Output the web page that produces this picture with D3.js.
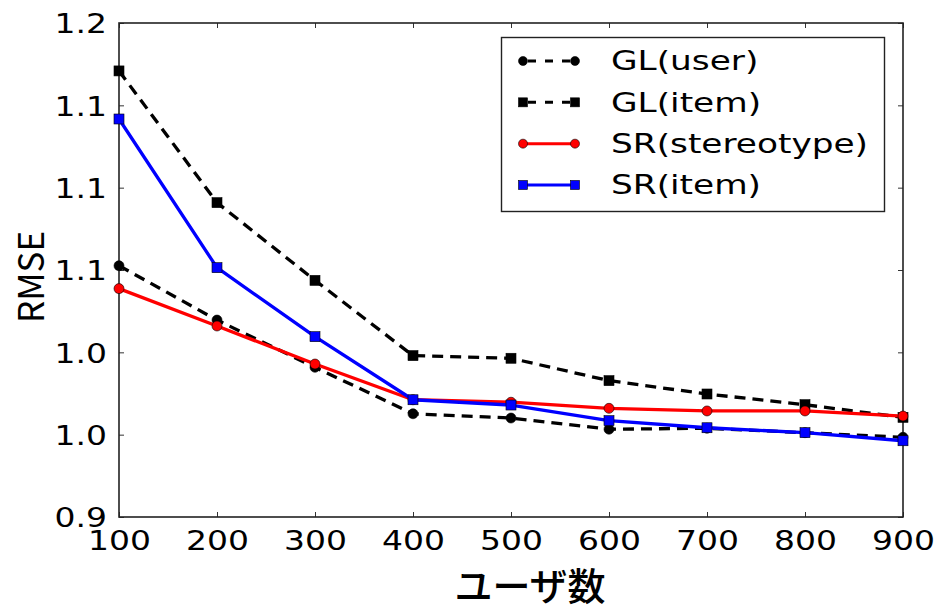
<!DOCTYPE html>
<html>
<head>
<meta charset="utf-8">
<script src="https://cdn.jsdelivr.net/npm/d3@7/dist/d3.min.js"></script>
<style>
  html, body { margin: 0; padding: 0; background: #fff; }
  svg { display: block; }
</style>
</head>
<body>
<svg id="chart" width="937" height="612"></svg>
<script>
// Number of users on the x axis
const users = [100, 200, 300, 400, 500, 600, 700, 800, 900];

// RMSE per method
const glUser = [1.0526, 1.0196, 0.9909, 0.9627, 0.9601, 0.9533, 0.9539, 0.9512, 0.9484];
const glItem = [1.1709, 1.0909, 1.0437, 0.9980, 0.9964, 0.9828, 0.9747, 0.9682, 0.9605];
const srStereotype = [1.0387, 1.0160, 0.9929, 0.9712, 0.9697, 0.9660, 0.9644, 0.9644, 0.9613];
const srItem = [1.1417, 1.0514, 1.0095, 0.9712, 0.9680, 0.9585, 0.9542, 0.9512, 0.9463];

// Axis ticks and their printed labels
const yTicks = [0.90, 0.95, 1.00, 1.05, 1.10, 1.15, 1.20];
const yTickLabels = ["0.9", "1.0", "1.0", "1.1", "1.1", "1.1", "1.2"];
const xTicks = [100, 200, 300, 400, 500, 600, 700, 800, 900];

const seriesNames = ["GL(user)", "GL(item)", "SR(stereotype)", "SR(item)"];

const series = [
  { name: seriesNames[0], values: glUser, color: "#000", dash: "11,7", marker: "circle" },
  { name: seriesNames[1], values: glItem, color: "#000", dash: "11,7", marker: "square" },
  { name: seriesNames[2], values: srStereotype, color: "#ff0000", dash: null, marker: "circle" },
  { name: seriesNames[3], values: srItem, color: "#0000ff", dash: null, marker: "square" }
];

const svg = d3.select("#chart");
const plot = { left: 119, right: 903, top: 23, bottom: 517 };

const x = d3.scaleLinear().domain([100, 900]).range([plot.left, plot.right]);
const y = d3.scaleLinear().domain([0.9, 1.2]).range([plot.bottom, plot.top]);

const latinFont = "'DejaVu Sans', sans-serif";
const cjkFont = "'Noto Sans CJK JP', 'Noto Sans', sans-serif";

// stretch a text element horizontally by a factor
function widen(sel, factor) {
  sel.each(function () {
    const w = this.getComputedTextLength();
    d3.select(this).attr("textLength", w * factor).attr("lengthAdjust", "spacingAndGlyphs");
  });
}

// Axes (ticks pointing inward, on all four sides)
const tickLen = 5;
const axisBottom = d3.axisBottom(x).tickValues(xTicks).tickSizeInner(-tickLen).tickSizeOuter(0).tickPadding(14).tickFormat(d3.format("d"));
const axisTop = d3.axisTop(x).tickValues(xTicks).tickSizeInner(-tickLen).tickSizeOuter(0).tickFormat("");
const axisLeft = d3.axisLeft(y).tickValues(yTicks).tickSizeInner(-tickLen).tickSizeOuter(0).tickPadding(12)
  .tickFormat((d, i) => yTickLabels[i]);
const axisRight = d3.axisRight(y).tickValues(yTicks).tickSizeInner(-tickLen).tickSizeOuter(0).tickFormat("");

function styleAxis(g) {
  g.select(".domain").remove();
  g.selectAll(".tick line").attr("stroke", "#333").attr("stroke-width", 1);
  g.selectAll(".tick text").attr("fill", "#000").style("font-family", latinFont).style("font-size", "27px");
}

const gx = svg.append("g").attr("transform", `translate(0,${plot.bottom})`).call(axisBottom).call(styleAxis);
gx.selectAll(".tick text").attr("dy", "0.71em").call(widen, 1.22);
svg.append("g").attr("transform", `translate(0,${plot.top})`).call(axisTop).call(styleAxis);
const gy = svg.append("g").attr("transform", `translate(${plot.left},0)`).call(axisLeft).call(styleAxis);
gy.selectAll(".tick text").attr("dy", "0.36em").call(widen, 1.22);
svg.append("g").attr("transform", `translate(${plot.right},0)`).call(axisRight).call(styleAxis);

// Frame around the plotting area
svg.append("rect")
  .attr("x", plot.left).attr("y", plot.top)
  .attr("width", plot.right - plot.left).attr("height", plot.bottom - plot.top)
  .attr("fill", "none").attr("stroke", "#222").attr("stroke-width", 1.6);

// Lines
const line = d3.line().x((d, i) => x(users[i])).y(d => y(d));

function drawMarker(g, type, cx, cy, color, size) {
  if (type === "circle") {
    g.append("circle").attr("cx", cx).attr("cy", cy).attr("r", size / 2)
      .attr("fill", color).attr("stroke", "#000").attr("stroke-width", 0.6);
  } else {
    g.append("rect").attr("x", cx - size / 2).attr("y", cy - size / 2)
      .attr("width", size).attr("height", size)
      .attr("fill", color).attr("stroke", "#000").attr("stroke-width", 0.6);
  }
}

const plotG = svg.append("g");
series.forEach(s => {
  const g = plotG.append("g");
  g.append("path").datum(s.values)
    .attr("d", line)
    .attr("fill", "none")
    .attr("stroke", s.color)
    .attr("stroke-width", 3.3)
    .attr("stroke-dasharray", s.dash)
    .attr("stroke-linejoin", "round");
  s.values.forEach((v, i) => drawMarker(g, s.marker, x(users[i]), y(v), s.color, 10));
});

// Legend
const legend = svg.append("g");
legend.append("rect")
  .attr("x", 501.5).attr("y", 37.5).attr("width", 383).attr("height", 174)
  .attr("fill", "#fff").attr("stroke", "#222").attr("stroke-width", 1.4);

const rowY = d3.scaleLinear().domain([0, 3]).range([61, 185]);
series.forEach((s, i) => {
  const yy = rowY(i);
  const row = legend.append("g");
  row.append("line")
    .attr("x1", 523).attr("x2", 575).attr("y1", yy).attr("y2", yy)
    .attr("stroke", s.color).attr("stroke-width", 3)
    .attr("stroke-dasharray", s.dash ? "8,9" : null)
    .attr("stroke-dashoffset", s.dash ? -5 : null);
  drawMarker(row, s.marker, 523, yy, s.color, 9);
  drawMarker(row, s.marker, 575, yy, s.color, 9);
  row.append("text")
    .attr("x", 611).attr("y", yy).attr("dy", "0.36em")
    .style("font-family", latinFont).style("font-size", "26px")
    .attr("fill", "#000")
    .text(s.name)
    .call(widen, 1.32);
});

// Axis titles
svg.append("text")
  .attr("transform", "translate(44,277) rotate(-90)")
  .attr("text-anchor", "middle")
  .style("font-family", cjkFont).style("font-size", "35px")
  .attr("fill", "#000")
  .text("RMSE");

svg.append("text")
  .attr("x", 530).attr("y", 600)
  .attr("text-anchor", "middle")
  .style("font-family", cjkFont).style("font-size", "38px").style("font-weight", 500)
  .attr("fill", "#000")
  .text("ユーザ数");
</script>
</body>
</html>
